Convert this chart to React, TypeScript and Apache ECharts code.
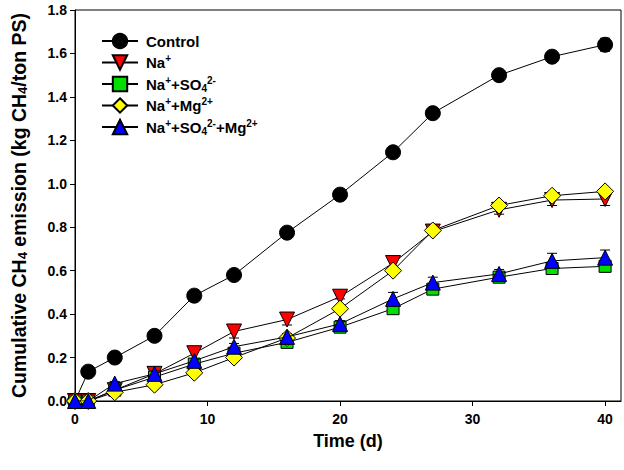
import React, { useEffect, useRef } from "react";
import * as echarts from "echarts";

const days = [0, 1, 3, 6, 9, 12, 16, 20, 24, 27, 32, 36, 40];
const control = [0, 0.135, 0.2, 0.3, 0.485, 0.58, 0.775, 0.95, 1.145, 1.325, 1.5, 1.585, 1.64];
const controlErr = [0, 0.01, 0.01, 0.01, 0.01, 0.01, 0.01, 0.01, 0.01, 0.01, 0.02, 0.02, 0.03];
const na = [0, 0, 0.05, 0.125, 0.22, 0.32, 0.375, 0.48, 0.635, 0.78, 0.88, 0.925, 0.93];
const naErr = [0, 0, 0.01, 0.01, 0.025, 0.03, 0.025, 0.01, 0.015, 0.01, 0.02, 0.025, 0.03];
const naSo4 = [0, 0, 0.05, 0.11, 0.17, 0.22, 0.27, 0.34, 0.425, 0.515, 0.57, 0.61, 0.62];
const naSo4Err = [0, 0, 0.01, 0.01, 0.01, 0.01, 0.01, 0.01, 0.015, 0.015, 0.02, 0.02, 0.025];
const naMg = [0, 0, 0.04, 0.075, 0.13, 0.2, 0.29, 0.425, 0.6, 0.785, 0.9, 0.945, 0.965];
const naMgErr = [0, 0, 0.01, 0.01, 0.01, 0.01, 0.01, 0.01, 0.01, 0.01, 0.01, 0.01, 0.01];
const naSo4Mg = [0, 0, 0.08, 0.125, 0.185, 0.25, 0.295, 0.355, 0.47, 0.545, 0.585, 0.645, 0.66];
const naSo4MgErr = [0, 0, 0.01, 0.01, 0.01, 0.015, 0.015, 0.015, 0.03, 0.025, 0.02, 0.035, 0.035];

const seriesNames = ["Control", "Na+", "Na+SO4", "NaMg", "NaSO4Mg"];
const legendLabels = [
  "Control",
  "Na{sup|+}",
  "Na{sup|+}+SO{sub|4}{sup|2-}",
  "Na{sup|+}+Mg{sup|2+}",
  "Na{sup|+}+SO{sub|4}{sup|2-}+Mg{sup|2+}",
];
const xTicks = [0, 10, 20, 30, 40];

const FONT = "'Liberation Sans', Arial, sans-serif";

export default function App() {
  const ref = useRef<HTMLDivElement>(null);
  useEffect(() => {
    if (!ref.current) return;
    const chart = echarts.init(ref.current, null, { renderer: "svg" });

    const groups = [
      { vals: control, errs: controlErr, symbol: "circle", size: 15, color: "#000000", rotate: 0 },
      { vals: na, errs: naErr, symbol: "triangle", size: 15, color: "#ff0000", rotate: 180 },
      { vals: naSo4, errs: naSo4Err, symbol: "rect", size: 12, color: "#00e000", rotate: 0 },
      { vals: naMg, errs: naMgErr, symbol: "diamond", size: 17, color: "#ffff00", rotate: 0 },
      { vals: naSo4Mg, errs: naSo4MgErr, symbol: "triangle", size: 15, color: "#0000ff", rotate: 0 },
    ];

    const series: any[] = [];
    groups.forEach((g, i) => {
      series.push({
        type: "custom",
        name: seriesNames[i] + "_err",
        z: 1,
        silent: true,
        data: days.map((d, k) => [d, g.vals[k], g.errs[k]]),
        encode: { x: 0, y: 1 },
        renderItem: (params: any, api: any) => {
          const x = api.value(0);
          const y = api.value(1);
          const e = api.value(2);
          if (!e) return null;
          const top = api.coord([x, y + e]);
          const bot = api.coord([x, y - e]);
          const hw = 5;
          const st = { stroke: "#000", lineWidth: 1 };
          return {
            type: "group",
            children: [
              { type: "line", shape: { x1: top[0], y1: top[1], x2: bot[0], y2: bot[1] }, style: st },
              { type: "line", shape: { x1: top[0] - hw, y1: top[1], x2: top[0] + hw, y2: top[1] }, style: st },
              { type: "line", shape: { x1: bot[0] - hw, y1: bot[1], x2: bot[0] + hw, y2: bot[1] }, style: st },
            ],
          };
        },
      });
    });
    groups.forEach((g, i) => {
      series.push({
        type: "line",
        name: seriesNames[i],
        z: 2 + i,
        data: days.map((d, k) => [d, g.vals[k]]),
        symbol: g.symbol,
        symbolSize: g.size,
        symbolRotate: g.rotate,
        showAllSymbol: true,
        lineStyle: { color: "#000", width: 1 },
        itemStyle: { color: g.color, borderColor: "#000", borderWidth: 1 },
        emphasis: { disabled: true },
      });
    });

    const tickLabelStyle = { fontFamily: FONT, fontWeight: "bold", fontSize: 14, color: "#000" };

    chart.setOption({
      animation: false,
      grid: { left: 75, right: 3, top: 10, bottom: 69, show: true, borderColor: "#000", borderWidth: 1 },
      legend: {
        data: seriesNames,
        orient: "vertical",
        left: 96,
        top: 27,
        itemWidth: 36,
        itemHeight: 18,
        itemGap: 3.5,
        formatter: (name: string) => legendLabels[seriesNames.indexOf(name)],
        textStyle: {
          fontFamily: FONT,
          fontWeight: "bold",
          fontSize: 15,
          color: "#000",
          lineHeight: 18,
          padding: [0, 0, 0, 3],
          rich: {
            sup: { fontFamily: FONT, fontWeight: "bold", fontSize: 10, lineHeight: 9, verticalAlign: "top", color: "#000" },
            sub: { fontFamily: FONT, fontWeight: "bold", fontSize: 10, lineHeight: 9, verticalAlign: "bottom", color: "#000" },
          },
        },
      },
      xAxis: {
        type: "value",
        min: 0,
        max: 41.2,
        interval: 10,
        name: "Time (d)",
        nameLocation: "middle",
        nameGap: 31,
        nameTextStyle: { fontFamily: FONT, fontWeight: "bold", fontSize: 18, color: "#000" },
        axisLine: { lineStyle: { color: "#000", width: 1 } },
        axisTick: { show: true, inside: false, length: 5, customValues: xTicks, lineStyle: { color: "#000" } },
        axisLabel: { ...tickLabelStyle, margin: 11, customValues: xTicks },
        splitLine: { show: false },
      },
      yAxis: {
        type: "value",
        min: 0,
        max: 1.8,
        interval: 0.2,
        name: "Cumulative CH{sub|4} emission (kg CH{sub|4}/ton PS)",
        nameLocation: "middle",
        nameGap: 46,
        nameTextStyle: {
          fontFamily: FONT,
          fontWeight: "bold",
          fontSize: 19.5,
          color: "#000",
          rich: {
            sub: { fontFamily: FONT, fontWeight: "bold", fontSize: 13, color: "#000", verticalAlign: "bottom", lineHeight: 13 },
          },
        },
        axisLine: { show: true, lineStyle: { color: "#000", width: 1 } },
        axisTick: { show: true, inside: false, length: 5, lineStyle: { color: "#000" } },
        axisLabel: { ...tickLabelStyle, margin: 8, formatter: (v: number) => v.toFixed(1) },
        splitLine: { show: false },
      },
      series,
    });

    return () => chart.dispose();
  }, []);

  return <div ref={ref} style={{ position: "fixed", left: 0, top: 0, width: 624, height: 470, background: "#fff" }} />;
}
